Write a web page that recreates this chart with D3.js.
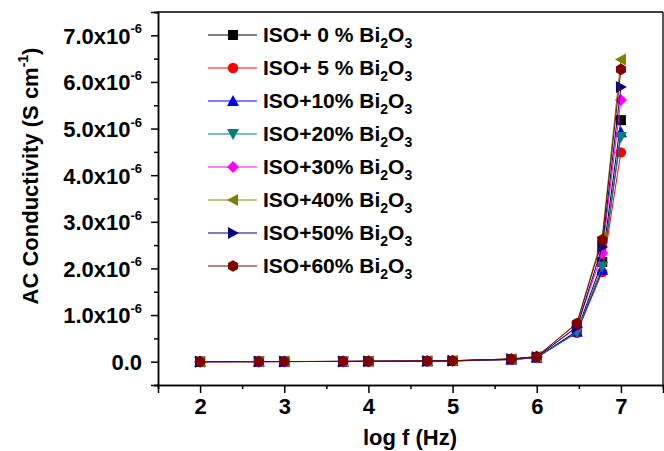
<!DOCTYPE html>
<html>
<head>
<meta charset="utf-8">
<script src="https://cdn.jsdelivr.net/npm/d3@7"></script>
<style>
  html, body { margin: 0; padding: 0; background: #fff; }
  svg { display: block; }
  text { font-family: "Liberation Sans", Arial, sans-serif; font-weight: bold; fill: #000; }
</style>
</head>
<body>
<svg id="chart" width="664" height="451"></svg>
<script>
// ---- data ----
const logF = [2, 2.699, 3, 3.699, 4, 4.699, 5, 5.699, 6, 6.477, 6.778, 7];
const seriesNames = ["ISO+ 0 % ", "ISO+ 5 % ", "ISO+10% ", "ISO+20% ", "ISO+30% ", "ISO+40% ", "ISO+50% ", "ISO+60% "];
const seriesColors = ["#000000", "#ff0000", "#0000ff", "#008080", "#ff00ff", "#808000", "#000080", "#800000"];
const seriesSymbols = ["square", "circle", "up", "down", "diamond", "left", "right", "hexagon"];
// AC conductivity in units of 1e-6 S/cm
const iso0  = [0.001, 0.002, 0.003, 0.005, 0.007, 0.012, 0.018, 0.050, 0.090, 0.66, 2.14, 5.18];
const iso5  = [0.001, 0.002, 0.003, 0.005, 0.006, 0.011, 0.016, 0.045, 0.085, 0.62, 1.92, 4.49];
const iso10 = [0.001, 0.002, 0.003, 0.005, 0.007, 0.012, 0.017, 0.048, 0.088, 0.64, 1.97, 4.92];
const iso20 = [0.001, 0.002, 0.003, 0.005, 0.007, 0.012, 0.017, 0.047, 0.087, 0.63, 2.04, 4.82];
const iso30 = [0.001, 0.002, 0.003, 0.006, 0.008, 0.014, 0.020, 0.055, 0.100, 0.75, 2.33, 5.61];
const iso40 = [0.001, 0.002, 0.004, 0.006, 0.009, 0.015, 0.022, 0.060, 0.110, 0.83, 2.67, 6.48];
const iso50 = [0.001, 0.002, 0.003, 0.006, 0.008, 0.014, 0.020, 0.056, 0.102, 0.74, 2.46, 5.89];
const iso60 = [0.001, 0.002, 0.004, 0.006, 0.009, 0.015, 0.021, 0.058, 0.108, 0.82, 2.61, 6.27];
const seriesValues = [iso0, iso5, iso10, iso20, iso30, iso40, iso50, iso60];
const xMajorTicks = [2, 3, 4, 5, 6, 7];
const xMinorTicks = [1.5, 2.5, 3.5, 4.5, 5.5, 6.5, 7.5];
const yMajorTicks = [0, 1, 2, 3, 4, 5, 6, 7];
const yMinorTicks = [-0.5, 0.5, 1.5, 2.5, 3.5, 4.5, 5.5, 6.5, 7.5];
const yTickLabels = ["0.0", "1.0x10", "2.0x10", "3.0x10", "4.0x10", "5.0x10", "6.0x10", "7.0x10"];

// ---- layout ----
const svg = d3.select("#chart");
const L = 158, R = 663, T = 12, B = 385;
const x = d3.scaleLinear().domain([1.5, 7.5]).range([L, R]);
const y = d3.scaleLinear().domain([-0.5, 7.5]).range([B, T]);

// frame
svg.append("line").attr("x1", L).attr("x2", R).attr("y1", T).attr("y2", T).attr("stroke", "#000").attr("stroke-width", 1.3);
svg.append("line").attr("x1", R).attr("x2", R).attr("y1", T).attr("y2", B).attr("stroke", "#000").attr("stroke-width", 1.3);

// axes
const xAxis = svg.append("g").attr("transform", `translate(0,${B})`)
  .call(d3.axisBottom(x).tickValues(xMajorTicks).tickSize(8).tickPadding(5).tickFormat(d3.format("d")));
const xMinor = svg.append("g").attr("transform", `translate(0,${B})`)
  .call(d3.axisBottom(x).tickValues(xMinorTicks).tickSize(4).tickFormat(""));
const yAxis = svg.append("g").attr("transform", `translate(${L},0)`)
  .call(d3.axisLeft(y).tickValues(yMajorTicks).tickSize(7).tickPadding(9).tickFormat((d, i) => yTickLabels[i]));
const yMinor = svg.append("g").attr("transform", `translate(${L},0)`)
  .call(d3.axisLeft(y).tickValues(yMinorTicks).tickSize(4).tickFormat(""));

[xAxis, xMinor, yAxis, yMinor].forEach(g => {
  g.select(".domain").attr("stroke", "#000").attr("stroke-width", 1.5);
  g.selectAll(".tick line").attr("stroke", "#000").attr("stroke-width", 1.5);
});
xAxis.selectAll(".tick text").attr("font-size", 22).attr("font-family", null).attr("fill", "#000");
yAxis.selectAll(".tick text").attr("font-size", 22).attr("font-family", null).attr("fill", "#000")
  .attr("dy", "0.36em")
  .each(function(d) {
    if (d !== 0) {
      d3.select(this).append("tspan").attr("font-size", 13).attr("dy", "-0.8em").text("-6");
    }
  });

// axis titles
svg.append("text").attr("x", 410).attr("y", 445).attr("text-anchor", "middle").attr("font-size", 22).text("log f (Hz)");
const yt = svg.append("text").attr("transform", "translate(38,176) rotate(-90)").attr("text-anchor", "middle").attr("font-size", 22);
yt.append("tspan").text("AC Conductivity (S cm");
yt.append("tspan").attr("font-size", 14).attr("dy", "-0.7em").text("-1");
yt.append("tspan").attr("dy", "0.45em").text(")");

// symbols
function symbolPath(kind) {
  const s = 5;
  switch (kind) {
    case "square": return `M${-s},${-s}H${s}V${s}H${-s}Z`;
    case "circle": return d3.symbol(d3.symbolCircle, 85)();
    case "up": return `M0,${-s - 1}L${s + 1},${s}L${-s - 1},${s}Z`;
    case "down": return `M0,${s + 1}L${s + 1},${-s}L${-s - 1},${-s}Z`;
    case "diamond": return `M0,${-s - 1}L${s + 1},0L0,${s + 1}L${-s - 1},0Z`;
    case "left": return `M${-s - 1},0L${s},${-s - 1}L${s},${s + 1}Z`;
    case "right": return `M${s + 1},0L${-s},${-s - 1}L${-s},${s + 1}Z`;
    case "hexagon": {
      const pts = d3.range(6).map(k => {
        const a = Math.PI / 6 + k * Math.PI / 3;
        return [5.8 * Math.cos(a), 5.8 * Math.sin(a)];
      });
      return "M" + pts.map(p => p.join(",")).join("L") + "Z";
    }
  }
}

const line = d3.line().x(d => x(d[0])).y(d => y(d[1]));
seriesValues.forEach((vals, i) => {
  const pts = logF.map((f, j) => [f, vals[j]]);
  const g = svg.append("g");
  g.append("path").attr("d", line(pts)).attr("fill", "none").attr("stroke", seriesColors[i]).attr("stroke-width", 1);
  g.selectAll("path.m").data(pts).enter().append("path").attr("class", "m")
    .attr("transform", d => `translate(${x(d[0])},${y(d[1])})`)
    .attr("d", symbolPath(seriesSymbols[i])).attr("fill", seriesColors[i]);
});

// legend
const lg = svg.append("g");
seriesNames.forEach((name, i) => {
  const yy = 35 + i * 33;
  lg.append("line").attr("x1", 208).attr("x2", 257).attr("y1", yy).attr("y2", yy).attr("stroke", seriesColors[i]).attr("stroke-width", 1);
  lg.append("path").attr("transform", `translate(233,${yy})`).attr("d", symbolPath(seriesSymbols[i])).attr("fill", seriesColors[i]);
  const t = lg.append("text").attr("x", 263).attr("y", yy + 7).attr("font-size", 21);
  t.append("tspan").text(name + "Bi");
  t.append("tspan").attr("font-size", 14).attr("dy", 6).text("2");
  t.append("tspan").attr("dy", -6).text("O");
  t.append("tspan").attr("font-size", 14).attr("dy", 6).text("3");
});
</script>
</body>
</html>
